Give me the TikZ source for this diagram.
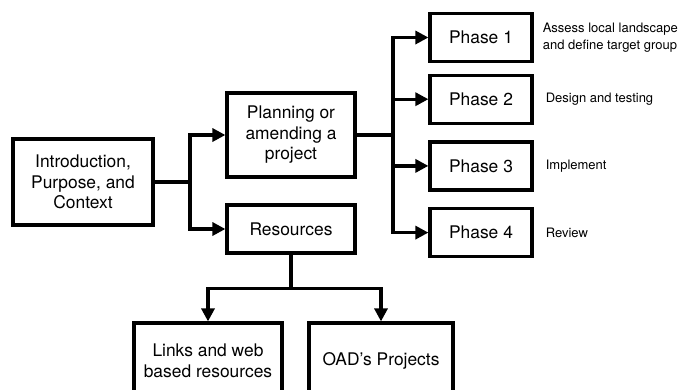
\documentclass[tikz,border=0pt]{standalone}
\usepackage{fontspec}
\setmainfont{TeX Gyre Heros}
\usepackage{tikz}
\usetikzlibrary{positioning,calc,arrows.meta}

\begin{document}
\begin{tikzpicture}[x=1pt, y=-1pt,
  box/.style={draw, line width=3.2pt, inner sep=0pt, align=center,
    font=\fontsize{17.4}{20.5}\selectfont},
  phasebox/.style={box, minimum width=102pt, minimum height=48pt},
  note/.style={anchor=west, align=left, inner sep=0pt,
    font=\fontsize{13}{17}\selectfont},
  link/.style={line width=3.2pt},
  arr/.style={link, -{Triangle[length=13pt, width=13pt]}}]
  \useasboundingbox (0,0) rectangle (685,389);
  \node[box, minimum width=140pt, minimum height=86pt] (intro) at (83,182)
    {Introduction,\\Purpose, and\\Context};
  \node[box, minimum width=128pt, minimum height=84pt] (plan) at (291,135)
    {Planning or\\amending a\\project};
  \node[box, minimum width=128pt, minimum height=48pt] (res) at (291,229)
    {Resources};
  \node[phasebox] (phase1) at (481,37.5) {Phase 1};
  \node[phasebox, below=10.5pt of phase1] (phase2) {Phase 2};
  \node[phasebox, below=15.5pt of phase2] (phase3) {Phase 3};
  \node[phasebox, below=15.5pt of phase3] (phase4) {Phase 4};
  \node[note, right=9pt of phase1] (note1) {Assess local landscape\\and define target group};
  \node[note, right=12pt of phase2] (note2) {Design and testing};
  \node[note, right=12pt of phase3] (note3) {Implement};
  \node[note, right=12pt of phase4] (note4) {Review};
  \node[box, minimum width=148pt, minimum height=76pt] (links) at (208,361)
    {Links and web\\based resources};
  \node[box, minimum width=144pt, minimum height=76pt] (oad) at (381,361)
    {OAD's Projects};
  % branches
  \coordinate (split) at (190,182);
  \draw[link] (intro.east) -- (split);
  \draw[arr] (split) |- (plan.west);
  \draw[arr] (split) |- (res.west);
  \coordinate (fork) at (393,135);
  \draw[link] (plan.east) -- (fork);
  \foreach \i in {1,...,4}
    \draw[arr] (fork) |- (phase\i.west);
  \draw[link] (res.south) -- ++(0,34) coordinate (drop);
  \draw[arr] (drop) -| (links.north);
  \draw[arr] (drop) -| (oad.north);
\end{tikzpicture}
\end{document}
